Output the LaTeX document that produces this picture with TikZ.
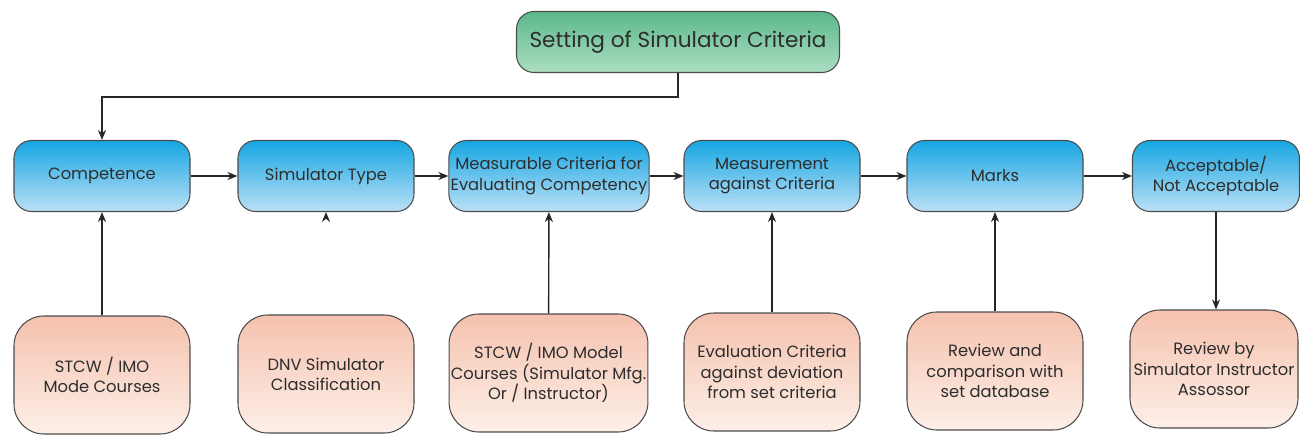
\documentclass[tikz,border=0pt]{standalone}
\usepackage{fontspec}
\setmainfont{Poppins}
\usepackage{tikz}
\usetikzlibrary{positioning, arrows.meta}

\definecolor{bluetop}{RGB}{22,166,226}
\definecolor{bluebot}{RGB}{188,224,246}
\definecolor{greentop}{RGB}{92,184,138}
\definecolor{greenbot}{RGB}{172,222,194}
\definecolor{salmtop}{RGB}{245,194,174}
\definecolor{salmbot}{RGB}{253,239,232}
\definecolor{txt}{RGB}{45,45,45}

\begin{document}
\begin{tikzpicture}[
  font=\fontsize{9.3}{11.5}\selectfont, text=txt,
  stepbox/.style={draw=black!70, line width=0.6pt, rounded corners=10pt,
              align=center, minimum height=1.42cm, minimum width=3.52cm,
              inner xsep=1pt, top color=bluetop, bottom color=bluebot},
  srcbox/.style={draw=black!70, line width=0.6pt, rounded corners=17pt,
              align=center, minimum height=2.36cm, minimum width=3.52cm,
              inner xsep=1pt, top color=salmtop, bottom color=salmbot},
  headbox/.style={draw=black!70, line width=0.6pt, rounded corners=10pt,
              align=center, minimum height=1.22cm, minimum width=6.46cm,
              top color=greentop, bottom color=greenbot,
              font=\fontsize{12.3}{15}\selectfont},
  arr/.style={-{Stealth[length=2mm, width=1.6mm]}, line width=0.8pt, black!85}
]
\useasboundingbox (0,0) rectangle (26,8.68);

\node[headbox] (crit) at (13.56,7.84) {Setting of Simulator Criteria};

\node[stepbox] (comp) at (2.04,5.16) {Competence};
\node[stepbox] (simtype) at (6.52,5.16) {Simulator Type};
\node[stepbox, minimum width=3.96cm] (meas) at (10.98,5.16) {Measurable Criteria for\\Evaluating Competency};
\node[stepbox] (mment) at (15.44,5.16) {Measurement\\against Criteria};
\node[stepbox] (marks) at (19.9,5.16) {Marks};
\node[stepbox, minimum width=3.34cm] (accept) at (24.32,5.16) {Acceptable/\\Not Acceptable};

\node[srcbox] (stcw) at (2.04,1.18) {STCW / IMO\\Mode Courses};
\node[srcbox] (dnv) at (6.52,1.20) {DNV Simulator\\Classification};
\node[srcbox, minimum width=3.74cm] (model) at (10.97,1.22) {STCW / IMO Model\\Courses (Simulator Mfg.\\Or / Instructor)};
\node[srcbox] (evalc) at (15.44,1.24) {Evaluation Criteria\\against deviation\\from set criteria};
\node[srcbox] (review) at (19.9,1.26) {Review and\\comparison with\\set database};
\node[srcbox, minimum width=3.36cm] (assess) at (24.28,1.30) {Review by\\Simulator Instructor\\Assossor};

\coordinate (bend) at (13.56,6.74);
\coordinate (dnvend) at (6.52,4.30);

\draw[arr] (crit.south) -- (bend) -| (comp.north);
\draw[arr] (comp) -- (simtype);
\draw[arr] (simtype) -- (meas);
\draw[arr] (meas) -- (mment);
\draw[arr] (mment) -- (marks);
\draw[arr] (marks) -- (accept);

\draw[arr] (stcw) -- (comp);
\draw[arr] (dnvend) -- (simtype.south);
\draw[arr] (model) -- (meas);
\draw[arr] (evalc) -- (mment);
\draw[arr] (review) -- (marks);
\draw[arr] (accept) -- (assess.north -| accept.south);
\end{tikzpicture}
\end{document}
